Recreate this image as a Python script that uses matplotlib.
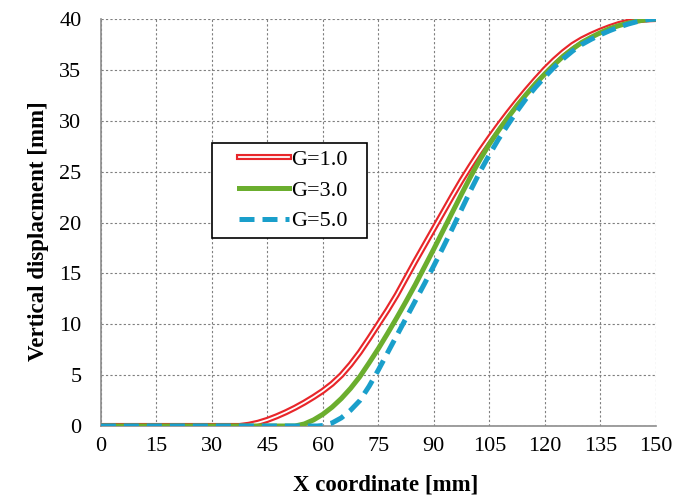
import numpy as np
import matplotlib
matplotlib.use('Agg')
import matplotlib.pyplot as plt
import matplotlib.patheffects as pe
from matplotlib.legend_handler import HandlerLine2D

plt.rcParams['font.family'] = ['Liberation Serif', 'DejaVu Serif']

# X coordinate [mm] and vertical displacement [mm] for each G
x_g1 = [0, 10, 20, 30, 37.5, 40, 42.5, 45, 47.5, 50, 52.5, 55, 57.5, 60, 62.5, 65,
        67.5, 70, 72.5, 75, 77.5, 80, 82.5, 85, 87.5, 90, 92.5, 95, 97.5, 100,
        102.5, 105, 107.5, 110, 112.5, 115, 117.5, 120, 122.5, 125, 127.5, 130,
        132.5, 135, 137.5, 140, 142.5, 145, 147.5, 150]
y_g1 = [0, 0, 0, 0, 0, 0.12, 0.32, 0.6, 0.95, 1.35, 1.8, 2.3, 2.85, 3.45, 4.15, 5.0,
        6.05, 7.25, 8.6, 10.0, 11.4, 12.9, 14.55, 16.2, 17.8, 19.4, 21.0, 22.6, 24.15, 25.6,
        27.0, 28.3, 29.55, 30.75, 31.9, 33.0, 34.05, 35.05, 35.95, 36.75, 37.45, 38.0,
        38.45, 38.85, 39.2, 39.5, 39.72, 39.87, 39.96, 40]

x_g3 = [0, 10, 20, 30, 40, 50, 52.5, 55, 57.5, 60, 62.5, 65, 67.5, 70, 72.5, 75,
        77.5, 80, 82.5, 85, 87.5, 90, 92.5, 95, 97.5, 100, 102.5, 105, 107.5, 110,
        112.5, 115, 117.5, 120, 122.5, 125, 127.5, 130, 132.5, 135, 137.5, 140,
        142.5, 145, 147.5, 150]
y_g3 = [0, 0, 0, 0, 0, 0, 0, 0.2, 0.6, 1.15, 1.85, 2.7, 3.7, 4.85, 6.2, 7.6,
        9.1, 10.65, 12.25, 13.9, 15.65, 17.4, 19.2, 21.0, 22.8, 24.55, 26.2, 27.7, 29.05, 30.3,
        31.5, 32.6, 33.65, 34.6, 35.5, 36.35, 37.05, 37.7, 38.2, 38.65, 39.05, 39.35,
        39.6, 39.8, 39.93, 40]

x_g5 = [0, 10, 20, 30, 40, 50, 58.5, 60, 62.5, 65, 67.5, 70, 72.5, 75,
        77.5, 80, 82.5, 85, 87.5, 90, 92.5, 95, 97.5, 100, 102.5, 105, 107.5, 110,
        112.5, 115, 117.5, 120, 122.5, 125, 127.5, 130, 132.5, 135, 137.5, 140,
        142.5, 145, 147.5, 150]
y_g5 = [0, 0, 0, 0, 0, 0, 0, 0.05, 0.3, 0.8, 1.55, 2.5, 3.9, 5.5,
        7.2, 8.9, 10.6, 12.3, 14.0, 15.75, 17.55, 19.4, 21.3, 23.2, 25.0, 26.65, 28.2, 29.6,
        30.95, 32.2, 33.3, 34.3, 35.25, 36.1, 36.85, 37.5, 38.0, 38.45, 38.85, 39.2,
        39.5, 39.75, 39.92, 40]

legend_labels = ['G=1.0', 'G=3.0', 'G=5.0']


class InsetLineHandler(HandlerLine2D):
    """Legend line that starts a little way in from the left edge of its box."""
    def __init__(self, inset, **kw):
        super().__init__(**kw)
        self.inset = inset

    def get_xdata(self, legend, xdescent, ydescent, width, height, fontsize):
        x0 = -xdescent + self.inset
        x1 = -xdescent + width
        return np.array([x0, x1]), np.array([(x0 + x1) / 2])


fig = plt.figure(figsize=(6.86, 5.0), dpi=100)
ax = fig.add_axes([0.147, 0.148, 0.809, 0.814])

# red double line: thick red stroke with a white core
l1, = ax.plot(x_g1, y_g1, color='white', lw=1.3, zorder=3,
              path_effects=[pe.Stroke(linewidth=4.4, foreground='#E8262A'), pe.Normal()])
l3, = ax.plot(x_g3, y_g3, color='#6BAE2E', lw=3.6, zorder=4)
l5, = ax.plot(x_g5, y_g5, color='#1A9FCB', lw=3.6, ls=(0, (3, 1.6)), zorder=5)

ax.set_xlim(0, 150)
ax.set_ylim(0, 40)
ax.set_xticks(range(0, 151, 15))
ax.set_yticks(range(0, 41, 5))
ax.grid(True, color='#7f7f7f', ls=(0, (2, 2)), lw=0.8)
ax.tick_params(length=0, labelsize=16)
ax.tick_params(axis='y', pad=14)
ax.tick_params(axis='x', pad=8)

for s in ['top', 'right']:
    ax.spines[s].set_visible(False)
for s in ['left', 'bottom']:
    ax.spines[s].set_color('#8c8c8c')
    ax.spines[s].set_linewidth(1.2)

ax.set_xlabel('X coordinate [mm]', fontsize=16.5, fontweight='bold')
ax.set_ylabel('Vertical displacment [mm]', fontsize=16.5, fontweight='bold')
ax.xaxis.set_label_coords(0.514, -0.12)
ax.yaxis.set_label_coords(-0.094, 0.48)

leg = ax.legend([l1, l3, l5], legend_labels,
                loc='upper left', bbox_to_anchor=(0.2, 0.45, 0.279, 0.2453),
                mode='expand', borderaxespad=0, fontsize=16,
                frameon=True, fancybox=False, edgecolor='black', framealpha=1,
                handlelength=3.15, borderpad=0.3, labelspacing=0.45, handletextpad=0.13,
                handler_map={l1: InsetLineHandler(15), l3: InsetLineHandler(15),
                             l5: InsetLineHandler(15)})
leg.get_frame().set_linewidth(1.2)

fig.savefig('out.png', dpi=100)
